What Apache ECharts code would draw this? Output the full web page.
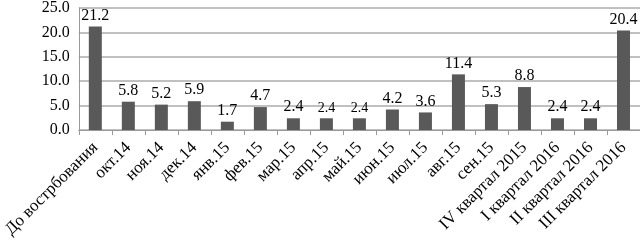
<!DOCTYPE html>
<html><head><meta charset="utf-8">
<script src="https://cdn.jsdelivr.net/npm/echarts@6/dist/echarts.min.js"></script>
<style>html,body{margin:0;padding:0;background:#fff}#c{width:640px;height:243px}</style>
</head><body><div id="c"></div>
<script>
const categories = ["До вострбования","окт.14","ноя.14","дек.14","янв.15","фев.15","мар.15","апр.15","май.15","июн.15","июл.15","авг.15","сен.15","IV квартал 2015","I квартал 2016","II квартал 2016","III квартал 2016"];
const values = [21.2,5.8,5.2,5.9,1.7,4.7,2.4,2.4,2.4,4.2,3.6,11.4,5.3,8.8,2.4,2.4,20.4];
const yTicks = [0,5,10,15,20,25];

const smallLabelIdx = [7,8];
const font = "'Liberation Serif','Times New Roman',serif";
const chart = echarts.init(document.getElementById('c'));
chart.setOption({
  animation:false,
  grid:{left:77,right:0,top:4.5,bottom:113},
  xAxis:{type:'category',data:categories,
    axisLine:{lineStyle:{color:'#999',width:1}},
    axisTick:{show:true,length:5,lineStyle:{color:'#999'}},
    axisLabel:{rotate:45,interval:0,margin:15,color:'#000',fontFamily:font,fontSize:17}},
  yAxis:{type:'value',min:yTicks[0],max:yTicks[yTicks.length-1],interval:5,
    axisLine:{show:true,lineStyle:{color:'#999'}},
    axisTick:{show:false},
    axisLabel:{formatter:v=>v.toFixed(1),margin:9,color:'#000',fontFamily:font,fontSize:16},
    splitLine:{lineStyle:{color:'#c0c0c0',width:2}}},
  series:[{type:'bar',barWidth:13,itemStyle:{color:'#595959'},
    data:values.map((v,i)=>({value:v,label:{fontSize:smallLabelIdx.includes(i)?14:16}})),
    label:{show:true,position:'top',distance:3,color:'#000',fontFamily:font,fontSize:16,formatter:p=>p.value.toFixed(1)}}]
});
</script></body></html>
